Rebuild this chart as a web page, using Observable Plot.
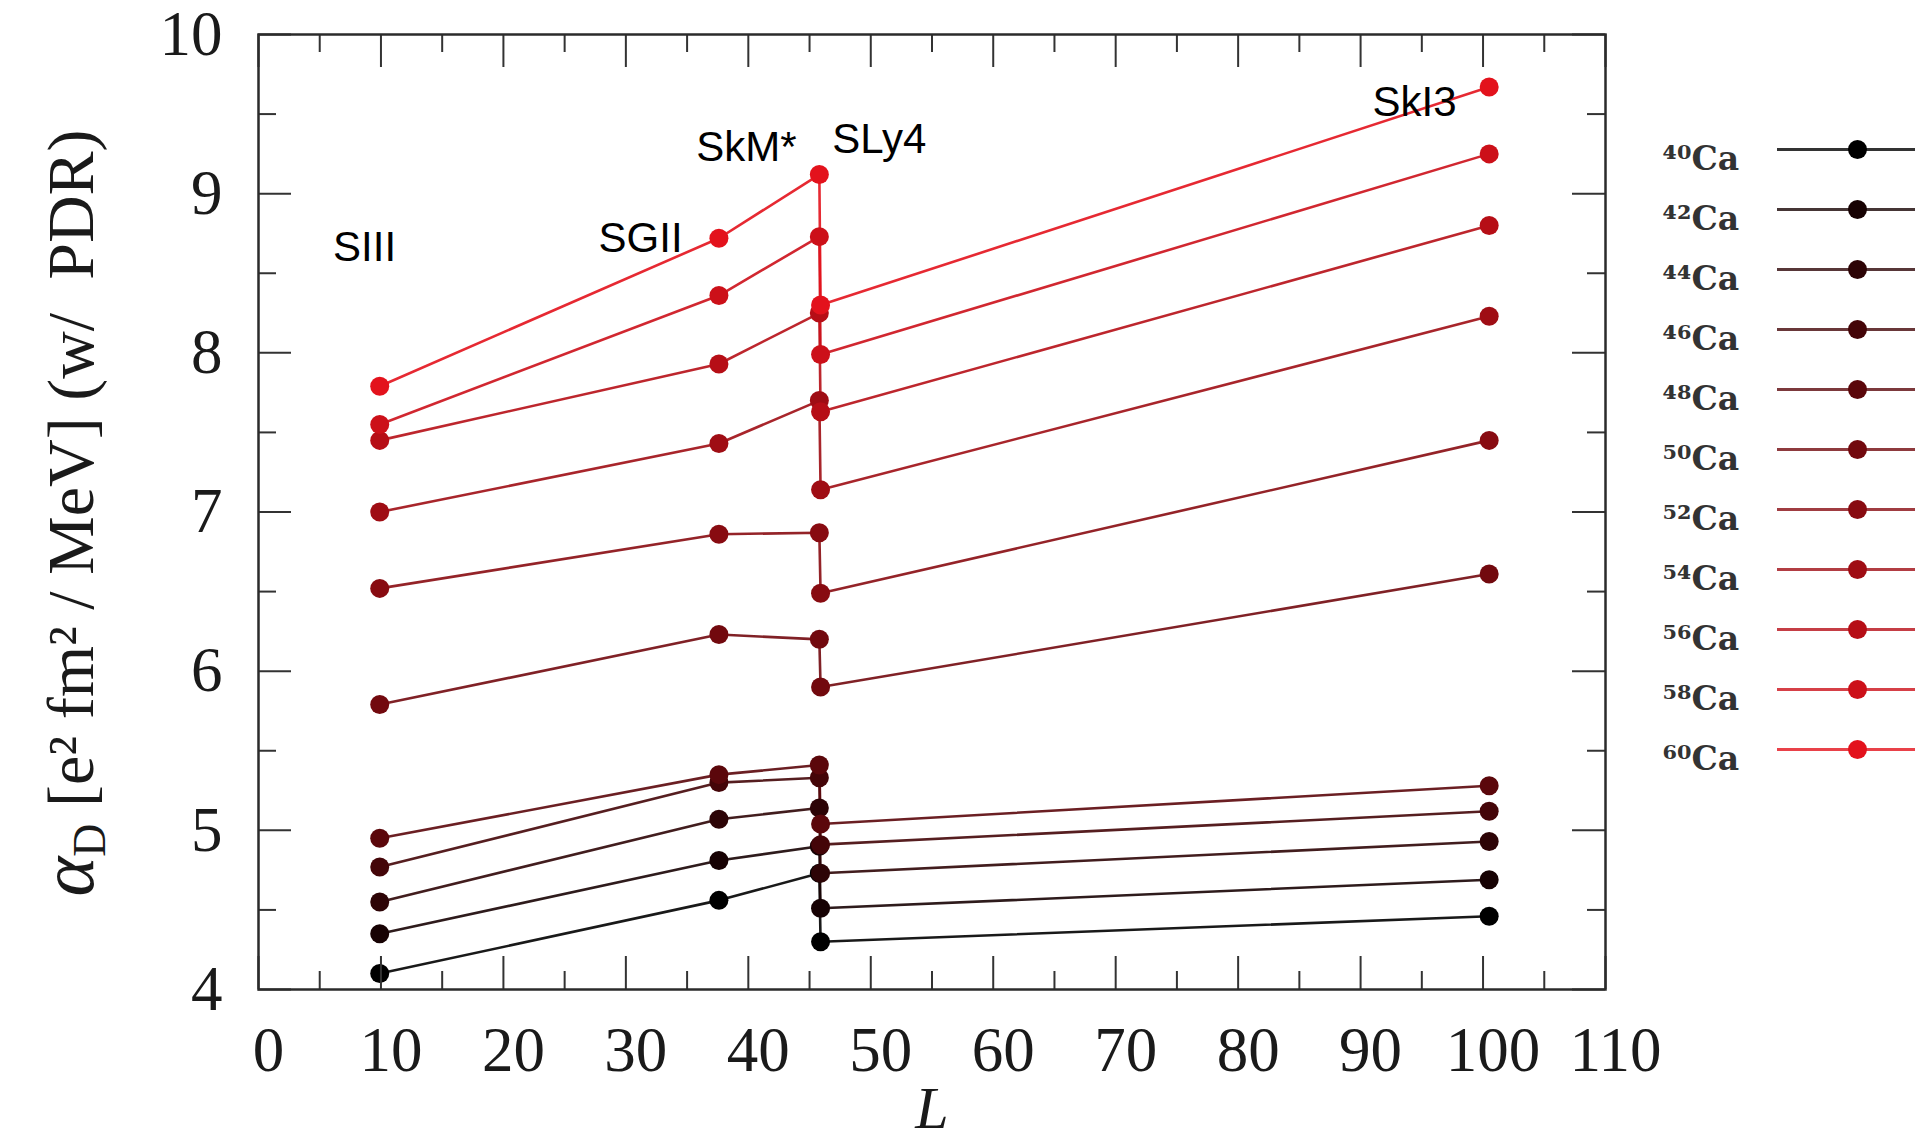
<!DOCTYPE html>
<html>
<head>
<meta charset="utf-8">
<script src="https://cdn.jsdelivr.net/npm/d3@7"></script>
<script src="https://cdn.jsdelivr.net/npm/@observablehq/plot@0.6"></script>
<style>
html, body { margin: 0; padding: 0; background: #fff; }
#wrap { position: relative; width: 1915px; height: 1143px; overflow: hidden; background: #fff; }
#wrap svg { position: absolute; top: 0; }
</style>
</head>
<body>
<div id="wrap"></div>
<script>
// ---- data ----
const models = ["SIII", "SGII", "SkM*", "SLy4", "SkI3"];
const slopeL = [9.9, 37.6, 45.8, 45.9, 100.5];
const isotopes = [40, 42, 44, 46, 48, 50, 52, 54, 56, 58, 60];
const isotopeLabels = ["⁴⁰Ca", "⁴²Ca", "⁴⁴Ca", "⁴⁶Ca", "⁴⁸Ca", "⁵⁰Ca", "⁵²Ca", "⁵⁴Ca", "⁵⁶Ca", "⁵⁸Ca", "⁶⁰Ca"];
const alphaSIII = [4.10, 4.35, 4.55, 4.77, 4.95, 5.79, 6.52, 7.00, 7.45, 7.55, 7.79];
const alphaSGII = [4.56, 4.81, 5.07, 5.30, 5.35, 6.23, 6.86, 7.43, 7.93, 8.36, 8.72];
const alphaSkMs = [4.73, 4.90, 5.14, 5.33, 5.41, 6.20, 6.87, 7.70, 8.25, 8.73, 9.12];
const alphaSLy4 = [4.30, 4.51, 4.73, 4.91, 5.04, 5.90, 6.49, 7.14, 7.63, 7.99, 8.30];
const alphaSkI3 = [4.46, 4.69, 4.93, 5.12, 5.28, 6.61, 7.45, 8.23, 8.80, 9.25, 9.67];
// annotation anchors (data units)
const labelX = [8.66, 31.2, 39.85, 50.7, 94.4];
const labelY = [8.66, 8.72, 9.29, 9.34, 9.57];
// ticks
const xTickValues = [0, 10, 20, 30, 40, 50, 60, 70, 80, 90, 100, 110];
const xMinorTicks = [5, 15, 25, 35, 45, 55, 65, 75, 85, 95, 105];
const yTickValues = [4, 5, 6, 7, 8, 9, 10];
const yMinorTicks = [4.5, 5.5, 6.5, 7.5, 8.5, 9.5];

// ---- build table ----
const modelValues = [alphaSIII, alphaSGII, alphaSkMs, alphaSLy4, alphaSkI3];
const rows = [];
isotopes.forEach((iso, j) => {
  models.forEach((m, i) => rows.push({model: m, L: slopeL[i], iso, alpha: modelValues[i][j]}));
});
const isotopeColors = isotopes.map((d, i) => d3.interpolateRgb("#000000", "#e3121c")(i / (isotopes.length - 1)));
const colorScale = {type: "ordinal", domain: isotopes, range: isotopeColors};

// ---- main chart ----
const W = 1915, H = 1143, mL = 258, mR = 310, mT = 34, mB = 154;
const innerW = W - mL - mR, innerH = H - mT - mB;
const major = 33, minor = 18;
const tickStyle = {stroke: "#333", strokeWidth: 2};

const main = Plot.plot({
  width: W, height: H,
  marginLeft: mL, marginRight: mR, marginTop: mT, marginBottom: mB,
  x: {domain: [0, 110]},
  y: {domain: [4, 10]},
  color: colorScale,
  style: {background: "#fff", fontFamily: "Liberation Serif", color: "#1a1a1a"},
  marks: [
    Plot.line(rows, {x: "L", y: "alpha", z: "iso", stroke: "iso", strokeWidth: 2.6, strokeOpacity: 0.9}),
    Plot.dot(rows, {x: "L", y: "alpha", fill: "iso", r: 9.5}),
    Plot.tickX(xTickValues, {x: d => d, insetTop: innerH - major, ...tickStyle}),
    Plot.tickX(xTickValues, {x: d => d, insetBottom: innerH - major, ...tickStyle}),
    Plot.tickX(xMinorTicks, {x: d => d, insetTop: innerH - minor, ...tickStyle}),
    Plot.tickX(xMinorTicks, {x: d => d, insetBottom: innerH - minor, ...tickStyle}),
    Plot.tickY(yTickValues, {y: d => d, insetRight: innerW - major, ...tickStyle}),
    Plot.tickY(yTickValues, {y: d => d, insetLeft: innerW - major, ...tickStyle}),
    Plot.tickY(yMinorTicks, {y: d => d, insetRight: innerW - minor, ...tickStyle}),
    Plot.tickY(yMinorTicks, {y: d => d, insetLeft: innerW - minor, ...tickStyle}),
    Plot.frame({stroke: "#2b2b2b", strokeWidth: 2.5}),
    Plot.axisX(xTickValues, {tickSize: 0, tickPadding: 37, fontSize: 63, dx: 10, label: null,
      tickFormat: d3.format("d"), fill: "#1a1a1a"}),
    Plot.axisY(yTickValues, {tickSize: 0, tickPadding: 36, fontSize: 63, label: null,
      tickFormat: d3.format("d"), fill: "#1a1a1a"}),
    Plot.text(models, {x: (d, i) => labelX[i], y: (d, i) => labelY[i], text: d => d,
      fontFamily: "Liberation Sans", fontSize: 42, fill: "#000"}),
    Plot.text(["L"], {frameAnchor: "bottom", lineAnchor: "bottom", dy: 138, text: d => d,
      fontStyle: "italic", fontSize: 60, fill: "#1a1a1a"})
  ]
});

// y-axis title with subscript
const yl = d3.select(main).append("text")
  .attr("transform", "translate(93,513) rotate(-90)")
  .attr("text-anchor", "middle")
  .attr("font-family", "Liberation Serif")
  .attr("font-size", 66)
  .attr("fill", "#1a1a1a");
yl.append("tspan").attr("font-style", "italic").attr("font-size", 76).text("α");
yl.append("tspan").attr("font-size", 46).attr("dy", 12).text("D");
yl.append("tspan").attr("dy", -12).text(" [e² fm² / MeV] (w/  PDR)");

// ---- legend (placed over the right margin) ----
const LX = 1640, LW = W - LX, lT = 145, lB = H - 752, lL = 137;
const legend = Plot.plot({
  width: LW, height: H,
  marginLeft: lL, marginRight: 0, marginTop: lT, marginBottom: lB,
  y: {type: "point", domain: isotopes, padding: 0, axis: null},
  color: colorScale,
  style: {background: "transparent"},
  marks: [
    Plot.tickY(isotopes, {y: d => d, stroke: d => d, strokeWidth: 3, strokeOpacity: 0.8}),
    Plot.dot(isotopes, {y: d => d, fill: d => d, r: 9.5, dx: 11}),
    Plot.text(isotopes, {y: d => d, text: (d, i) => isotopeLabels[i], frameAnchor: "left",
      textAnchor: "start", dx: -115, dy: 10, fontFamily: "DejaVu Serif", fontWeight: "bold",
      fontSize: 33, fill: "#333"})
  ]
});

const wrap = document.getElementById("wrap");
main.style.left = "0px";
legend.style.left = LX + "px";
wrap.appendChild(main);
wrap.appendChild(legend);
</script>
</body>
</html>
